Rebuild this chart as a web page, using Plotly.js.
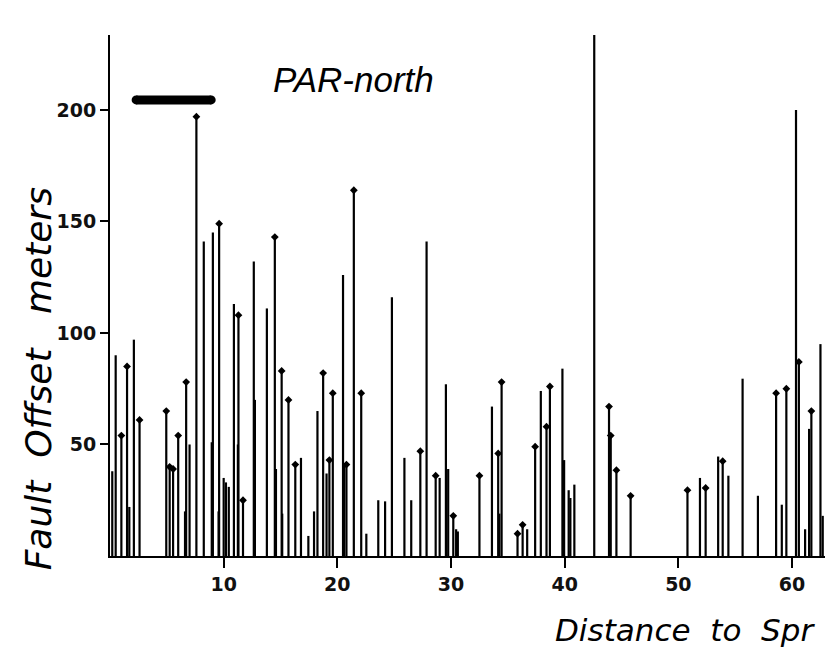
<!DOCTYPE html>
<html>
<head>
<meta charset="utf-8">
<script src="https://cdn.plot.ly/plotly-3.0.1.min.js"></script>
<style>html,body{margin:0;padding:0;background:#fff;overflow:hidden}#chart{width:825px;height:654px}</style>
</head>
<body>
<div id="chart"></div>
<script>
// Stems with arrow tips (distance km, offset m)
const tippedX = [1.0,1.5,2.6,4.95,5.25,5.55,6.0,6.7,7.6,9.6,11.3,11.7,14.5,15.1,15.7,16.3,18.75,19.3,19.6,20.8,21.45,22.1,27.3,28.65,30.2,32.5,34.15,34.45,35.85,36.3,37.4,38.4,38.7,43.9,44.05,44.55,45.8,50.8,52.4,53.9,58.6,59.5,60.6,61.7];
const tippedY = [54,85,61,65,40,39,54,78,197,149,108,25,143,83,70,41,82,43,73,41,164,73,47,36,18,36,46,78,10,14,49,58,76,67,54,38.5,27,29.5,30.5,42.5,73,75,87,65];
// Plain stems
const plainX = [0.2,0.5,1.7,2.1,6.6,7.0,8.25,8.95,9.05,9.55,10.0,10.2,10.45,10.9,11.25,12.65,12.75,13.8,14.6,15.15,16.8,17.45,17.95,18.25,19.05,20.5,20.6,22.55,23.6,24.2,24.8,25.9,26.5,27.85,29.0,29.55,29.75,30.45,30.6,33.6,34.25,36.7,37.9,39.8,39.95,40.35,40.5,40.85,42.6,51.9,53.5,54.4,55.65,57.0,59.1,60.35,61.15,61.5,62.5,62.7];
const plainY = [38,90,22,97,20,50,141,51,145,20,35,33,31,113,50,132,70,111,39,19,44,9,20,65,37,126,41,10,25,24.5,116,44,25,141,35,77,39,12,11,67,19,12,74,84,43,29.5,26,32,234,35,44.6,36,79.5,27,23,200,12,57,95,18];
// Scale bar
const barX = [2.3, 8.9];
const barY = [204.5, 204.5];
// Axis ticks
const xTickVals = [10,20,30,40,50,60];
const xTickText = ['10','20','30','40','50','60'];
const yTickVals = [50,100,150,200];
const yTickText = ['50','100','150','200'];

function stems(xs, ys){
  const sx=[], sy=[];
  for(let i=0;i<xs.length;i++){ sx.push(xs[i],xs[i],null); sy.push(0,ys[i],null); }
  return {sx, sy};
}
const allX = plainX.concat(tippedX), allY = plainY.concat(tippedY);
const s = stems(allX, allY);

const traces = [
  {x:s.sx, y:s.sy, mode:'lines', line:{color:'#000', width:2.2}, hoverinfo:'skip', showlegend:false},
  {x:tippedX, y:tippedY, mode:'markers', marker:{symbol:'diamond', size:6, color:'#000'}, showlegend:false},
  {x:barX, y:barY, mode:'lines+markers', line:{color:'#000', width:9}, marker:{symbol:'circle', size:9, color:'#000'}, showlegend:false}
];

const layout = {
  width:825, height:654,
  margin:{l:110, r:0, t:35, b:98},
  paper_bgcolor:'#fff', plot_bgcolor:'#fff',
  showlegend:false,
  xaxis:{range:[0,62.9], tickvals:xTickVals, ticktext:xTickText, ticks:'outside', ticklen:10, tickwidth:2, tickcolor:'#000',
    showline:true, linecolor:'#000', linewidth:2, showgrid:false, zeroline:false,
    tickfont:{family:'DejaVu Sans', size:19, weight:'bold', color:'#111'}},
  yaxis:{range:[0,233.6], tickvals:yTickVals, ticktext:yTickText, ticks:'outside', ticklen:8, tickwidth:2, tickcolor:'#000',
    showline:true, linecolor:'#000', linewidth:2, showgrid:false, zeroline:false,
    tickfont:{family:'DejaVu Sans', size:19, weight:'bold', color:'#111'}},
  annotations:[
    {text:'PAR-north', xref:'paper', yref:'paper', x:0.34, y:0.914, xanchor:'center', yanchor:'middle', showarrow:false,
      font:{family:'Liberation Sans', size:35, style:'italic', color:'#000'}},
    {text:'Fault\u00A0\u00A0Offset\u00A0\u00A0\u00A0meters', xref:'paper', yref:'paper', x:-0.1, y:0.34, xanchor:'center', yanchor:'middle', textangle:-90, showarrow:false,
      font:{family:'DejaVu Sans', size:36, style:'italic', color:'#000'}},
    {text:'Distance\u00A0\u00A0to\u00A0\u00A0Spr', xref:'paper', yref:'paper', x:0.62, y:-0.142, xanchor:'left', yanchor:'middle', showarrow:false,
      font:{family:'DejaVu Sans', size:31, style:'italic', color:'#000'}}
  ]
};
Plotly.newPlot('chart', traces, layout, {displayModeBar:false, staticPlot:true});
</script>
</body>
</html>
